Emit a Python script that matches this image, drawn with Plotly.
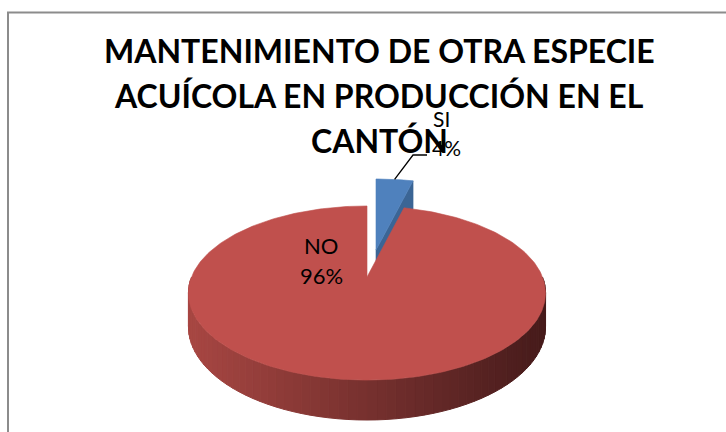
import numpy as np
import plotly.graph_objects as go

# ---------------- data ----------------
categories = ["SI", "NO"]
values = [4, 96]
title_lines = ["MANTENIMIENTO DE OTRA ESPECIE",
               "ACUÍCOLA EN PRODUCCIÓN EN EL",
               "CANTÓN"]

# ---------------- style / geometry ----------------
W, Hgt = 726, 432
CX, CY = 367.0, 277.0      # projected centre of the pie top
A, B = 175.5, 84.1         # horizontal / vertical radii (pixels)
K = 0.184                  # perspective factor
DEPTH = 32.6               # thickness of the pie
EXPLODE = {"SI": (9.0, -27.0), "NO": (0.0, 0.0)}
TOP_COLORS = {"SI": "#4F81BD", "NO": "#C0504D"}
SIDE_DARK = {"SI": "#3B6595"}
WALL_LEFT = np.array([168, 71, 67])
WALL_RIGHT = np.array([70, 27, 27])
FONT = "Lato"


def proj(theta_deg, r=1.0, z=0.0, off=(0.0, 0.0)):
    t = np.radians(theta_deg)
    u = r * np.sin(t)
    v = r * np.cos(t)
    w = 1 + K * v
    return CX + A * u / w + off[0], CY - B * v / w + DEPTH * z / w + off[1]


total = sum(values)
angles = []
start = 0.0
for c, v in zip(categories, values):
    span = 360.0 * v / total
    angles.append((c, start, start + span))
    start += span

fig = go.Figure()


def poly(xs, ys, color, line_color=None, lw=0.6):
    fig.add_trace(go.Scatter(
        x=list(xs) + [xs[0]], y=list(ys) + [ys[0]], mode="lines",
        fill="toself", fillcolor=color,
        line=dict(color=line_color or color, width=lw),
        hoverinfo="skip", showlegend=False))


# --- SI slice (behind) ---
for c, a0, a1 in angles:
    if c != "SI":
        continue
    off = EXPLODE[c]
    ax, ay = proj(0, r=0, off=off)
    axb, ayb = proj(0, r=0, z=1, off=off)
    cx1, cy1 = proj(a1, off=off)
    cx1b, cy1b = proj(a1, z=1, off=off)
    poly([ax, cx1, cx1b, axb], [ay, cy1, cy1b, ayb], SIDE_DARK[c])
    th = np.linspace(a0, a1, 20)
    pts = [proj(t, off=off) for t in th]
    poly([ax] + [p[0] for p in pts], [ay] + [p[1] for p in pts], TOP_COLORS[c])
    si_mid = proj((a0 + a1) / 2, off=off)
    si_label = (c, f"{values[categories.index(c)] / total * 100:.0f}%")

# --- NO slice walls (gradient strips) ---
for c, a0, a1 in angles:
    if c != "NO":
        continue
    off = EXPLODE[c]
    lo, hi = max(a0, 90.0), min(a1, 270.0)
    edges = np.linspace(lo, hi, 71)
    xmin, xmax = CX - A * 1.02, CX + A * 1.02
    for i in range(len(edges) - 1):
        t0, t1 = edges[i], edges[i + 1]
        ts = np.linspace(t0, t1, 4)
        top = [proj(t, off=off) for t in ts]
        bot = [proj(t, z=1, off=off) for t in ts[::-1]]
        xm = np.mean([p[0] for p in top])
        f = np.clip((xm - xmin) / (xmax - xmin), 0, 1)
        col = WALL_LEFT + (WALL_RIGHT - WALL_LEFT) * f
        colstr = "rgb(%d,%d,%d)" % tuple(col.astype(int))
        poly([p[0] for p in top + bot], [p[1] for p in top + bot], colstr, lw=1)
    th = np.linspace(a0, a1, 300)
    pts = [proj(t, off=off) for t in th]
    ax, ay = proj(0, r=0, off=off)
    poly([ax] + [p[0] for p in pts], [ay] + [p[1] for p in pts], TOP_COLORS[c])
    no_label = (c, f"{values[categories.index(c)] / total * 100:.0f}%")

# --- leader line for SI ---
fig.add_trace(go.Scatter(
    x=[si_mid[0], 413, 427], y=[si_mid[1], 155, 155], mode="lines",
    line=dict(color="black", width=1.3), hoverinfo="skip", showlegend=False))

annotations = []
# data labels
annotations.append(dict(x=441, y=118, text=si_label[0], showarrow=False,
                        font=dict(family=FONT, size=21, color="black")))
annotations.append(dict(x=446, y=147, text=si_label[1], showarrow=False,
                        font=dict(family=FONT, size=21, color="black")))
annotations.append(dict(x=321, y=245, text=no_label[0], showarrow=False,
                        font=dict(family=FONT, size=22, color="black")))
annotations.append(dict(x=321, y=275, text=no_label[1], showarrow=False,
                        font=dict(family=FONT, size=22, color="black")))
# title lines
for i, line in enumerate(title_lines):
    annotations.append(dict(x=379, y=50 + 45 * i, text="<b>%s</b>" % line,
                            showarrow=False,
                            font=dict(family=FONT, size=32, color="black")))

fig.update_layout(
    width=W, height=Hgt, margin=dict(l=0, r=0, t=0, b=0),
    paper_bgcolor="white", plot_bgcolor="white", showlegend=False,
    xaxis=dict(range=[0, W], visible=False, fixedrange=True),
    yaxis=dict(range=[Hgt, 0], visible=False, fixedrange=True),
    annotations=annotations,
    shapes=[dict(type="path", path="M 8,432 L 8,12.5 L 726,12.5",
                 xref="x", yref="y", line=dict(color="#8C8C8C", width=2))],
)

fig.write_html("out.html")
